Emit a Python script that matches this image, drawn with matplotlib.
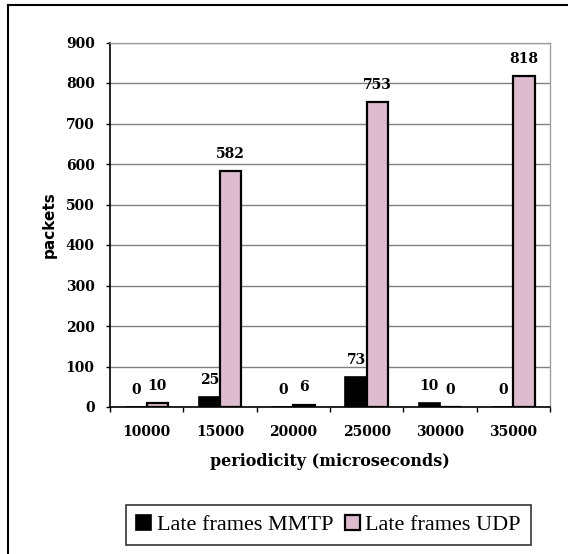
import matplotlib
matplotlib.use("Agg")
import matplotlib.pyplot as plt
import numpy as np
from matplotlib.lines import Line2D

categories = ["10000", "15000", "20000", "25000", "30000", "35000"]
mmtp = [0, 25, 0, 73, 10, 0]
udp = [10, 582, 6, 753, 0, 818]
series_names = ["Late frames MMTP", "Late frames UDP"]
yticks = [0, 100, 200, 300, 400, 500, 600, 700, 800, 900]

W, H = 568, 554
fig = plt.figure(figsize=(W / 100, H / 100), dpi=100)
fig.patch.set_facecolor("white")

ax = fig.add_axes([110 / W, 1 - 407 / H, 440 / W, (407 - 42.5) / H])

x = np.arange(len(categories))
bw = 0.29
b1 = ax.bar(x - bw / 2, mmtp, bw, color="black", edgecolor="black", linewidth=1.2,
            label=series_names[0], zorder=3)
b2 = ax.bar(x + bw / 2, udp, bw, color="#dcbccd", edgecolor="black", linewidth=1.6,
            label=series_names[1], zorder=3)

lab_font = dict(family="DejaVu Serif", weight="bold", size=10)
for bars, vals in ((b1, mmtp), (b2, udp)):
    for r, v in zip(bars, vals):
        ax.annotate(f"{v}", (r.get_x() + r.get_width() / 2, v), xytext=(0, 9.5),
                    textcoords="offset points", ha="center", va="baseline", **lab_font)

ax.set_xlim(-0.5, len(categories) - 0.5)
ax.set_ylim(0, 900)
ax.set_yticks(yticks)
ax.set_yticklabels([str(t) for t in yticks], **lab_font)
ax.set_xticks(x)
ax.set_xticklabels(categories, **lab_font)
ax.set_xticks(np.arange(len(categories) + 1) - 0.5, minor=True)
ax.tick_params(axis="x", which="major", length=0, pad=13)
ax.tick_params(axis="x", which="minor", length=3.5, width=1, direction="out")
ax.tick_params(axis="y", which="major", length=3, width=1, pad=8, direction="out")

ax.yaxis.grid(True, color="#808080", linewidth=1, zorder=0)
ax.set_axisbelow(True)
for s in ("top", "right"):
    ax.spines[s].set_color("#a0a0a0")
    ax.spines[s].set_linewidth(1)
for s in ("left", "bottom"):
    ax.spines[s].set_color("black")
    ax.spines[s].set_linewidth(1.2)

ax.set_xlabel("periodicity (microseconds)", family="DejaVu Serif", weight="bold", size=11.5)
ax.xaxis.label.set_va("center")
ax.xaxis.set_label_coords(0.5, (407 - 462) / (407 - 42.5))
ax.set_ylabel("packets", family="DejaVu Sans", weight="bold", size=11)
ax.yaxis.label.set_va("center")
ax.yaxis.set_label_coords((49 - 110) / 440, 0.5)

leg = fig.legend(handles=[b1, b2], labels=series_names, loc="center",
                 bbox_to_anchor=(328.5 / W, 1 - 525 / H),
                 ncol=2, frameon=True, fancybox=False,
                 prop=dict(family="Liberation Serif", size=16),
                 handlelength=0.68, handleheight=0.68, handletextpad=0.25,
                 columnspacing=0.5, borderpad=0.45, borderaxespad=0)
leg.get_frame().set_edgecolor("black")
leg.get_frame().set_linewidth(1.2)

fig.add_artist(Line2D([8 / W, 8 / W], [0, 1 - 5 / H], color="black", lw=1.5,
                      transform=fig.transFigure))
fig.add_artist(Line2D([8 / W, 1], [1 - 5 / H, 1 - 5 / H], color="black", lw=1.5,
                      transform=fig.transFigure))

fig.savefig("out.png", dpi=100)
